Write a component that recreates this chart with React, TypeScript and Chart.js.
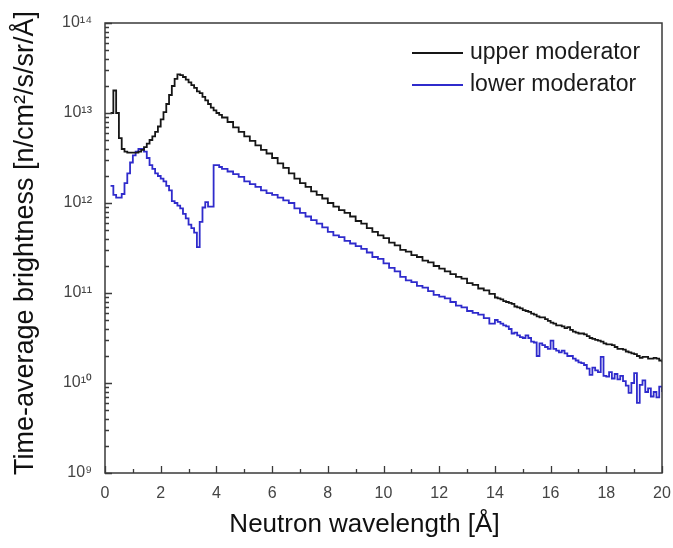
import React, { useEffect, useRef } from 'react';
import { Chart, registerables } from 'chart.js';

Chart.register(...registerables);

// Neutron wavelength bin starts [Å]
const wavelength = [
  0.2, 0.3, 0.4, 0.5, 0.6, 0.7, 0.8, 0.9, 1.0, 1.1,
  1.2, 1.3, 1.4, 1.5, 1.6, 1.7, 1.8, 1.9, 2.0, 2.1,
  2.2, 2.3, 2.4, 2.5, 2.6, 2.7, 2.8, 2.9, 3.0, 3.1,
  3.2, 3.3, 3.4, 3.5, 3.6, 3.7, 3.8, 3.9, 4.0, 4.1,
  4.2,
  4.4, 4.6, 4.8, 5.0, 5.2, 5.4, 5.6, 5.8, 6.0, 6.2,
  6.4, 6.6, 6.8, 7.0, 7.2, 7.4, 7.6, 7.8, 8.0, 8.2,
  8.4, 8.6, 8.8, 9.0, 9.2, 9.4, 9.6, 9.8, 10.0, 10.2,
  10.4, 10.6, 10.8, 11.0, 11.2, 11.4, 11.6, 11.8, 12.0, 12.2,
  12.4, 12.6, 12.8, 13.0, 13.2, 13.4, 13.6, 13.8,
  14.0, 14.1, 14.2, 14.3, 14.4, 14.5, 14.6, 14.7, 14.8, 14.9,
  15.0, 15.1, 15.2, 15.3, 15.4, 15.5, 15.6, 15.7, 15.8, 15.9,
  16.0, 16.1, 16.2, 16.3, 16.4, 16.5, 16.6, 16.7, 16.8, 16.9,
  17.0, 17.1, 17.2, 17.3, 17.4, 17.5, 17.6, 17.7, 17.8, 17.9,
  18.0, 18.1, 18.2, 18.3, 18.4, 18.5, 18.6, 18.7, 18.8, 18.9,
  19.0, 19.1, 19.2, 19.3, 19.4, 19.5, 19.6, 19.7, 19.8, 19.9,
  20.0,
];

// log10 of time-average brightness [n/cm²/s/sr/Å], upper moderator
const upperLog10 = [
  13.0, 13.25, 13.0, 12.72, 12.6, 12.57, 12.56, 12.56, 12.56, 12.56,
  12.57, 12.59, 12.62, 12.66, 12.7, 12.74, 12.79, 12.85, 12.93, 13.01,
  13.1, 13.2, 13.3, 13.38, 13.43, 13.42, 13.4, 13.37, 13.34, 13.31,
  13.28, 13.24, 13.22, 13.18, 13.14, 13.1, 13.06, 13.03, 13.0, 12.98,
  12.95,
  12.9, 12.84, 12.79, 12.74, 12.69, 12.64, 12.59, 12.55, 12.5, 12.44,
  12.39, 12.33, 12.27, 12.22, 12.18, 12.13, 12.09, 12.05, 12.0, 11.96,
  11.92, 11.89, 11.85, 11.8, 11.77, 11.72, 11.68, 11.64, 11.61, 11.56,
  11.53, 11.48, 11.46, 11.42, 11.4, 11.36, 11.34, 11.3, 11.27, 11.24,
  11.21, 11.18, 11.16, 11.11, 11.09, 11.05, 11.03, 10.99,
  10.95, 10.94, 10.93, 10.91, 10.9, 10.89, 10.88, 10.85, 10.84, 10.83,
  10.81, 10.8, 10.79, 10.77, 10.76, 10.74, 10.73, 10.73, 10.71, 10.69,
  10.67, 10.66, 10.64, 10.64, 10.63, 10.61, 10.62, 10.59, 10.57, 10.56,
  10.55, 10.55, 10.54, 10.52, 10.5, 10.49, 10.48, 10.47, 10.46, 10.44,
  10.43, 10.43, 10.42, 10.4, 10.38, 10.38, 10.37, 10.35, 10.34, 10.33,
  10.32, 10.3, 10.28, 10.29, 10.29, 10.27, 10.27, 10.28, 10.27, 10.25,
  10.23,
];

// log10 of time-average brightness [n/cm²/s/sr/Å], lower moderator
const lowerLog10 = [
  12.19, 12.09, 12.06, 12.06, 12.1, 12.22, 12.33, 12.45, 12.53, 12.57,
  12.6, 12.6, 12.57, 12.5, 12.42, 12.38, 12.33, 12.3, 12.27, 12.24,
  12.19, 12.14, 12.02, 12.0, 11.97, 11.94, 11.88, 11.83, 11.76, 11.72,
  11.67, 11.51, 11.79, 11.95, 12.01, 11.96, 11.96, 12.42, 12.42, 12.4,
  12.38,
  12.35, 12.32, 12.29, 12.24, 12.21, 12.18, 12.14, 12.11, 12.09, 12.06,
  12.03, 12.0, 11.94, 11.89, 11.85, 11.81, 11.77, 11.73, 11.68, 11.64,
  11.62, 11.58, 11.55, 11.52, 11.49, 11.45, 11.4, 11.38, 11.33, 11.28,
  11.24, 11.18, 11.14, 11.12, 11.08, 11.06, 11.02, 10.98, 10.96, 10.94,
  10.9, 10.86, 10.84, 10.8, 10.78, 10.76, 10.72, 10.66,
  10.7, 10.68, 10.66, 10.64, 10.63, 10.6, 10.55, 10.56, 10.53, 10.51,
  10.5, 10.53, 10.5, 10.46, 10.45, 10.3, 10.44, 10.42, 10.4, 10.38,
  10.47, 10.38, 10.36, 10.34, 10.36, 10.33, 10.3, 10.3, 10.27, 10.25,
  10.23, 10.22, 10.2, 10.16, 10.09, 10.17, 10.14, 10.12, 10.29, 10.08,
  10.07, 10.12, 10.05, 10.1, 10.04, 10.08, 10.02, 9.97, 9.89, 10.0,
  10.11, 9.78, 9.98, 10.03, 9.9, 9.94, 9.85, 9.9, 9.84, 9.96,
  9.9,
];

const seriesLabels = ['upper moderator', 'lower moderator'];
const seriesColors = ['#161616', '#2f2bcc'];

const xTickValues = [0, 2, 4, 6, 8, 10, 12, 14, 16, 18, 20];
const xTickLabels = ['0', '2', '4', '6', '8', '10', '12', '14', '16', '18', '20'];
const xMinorValues = [1, 3, 5, 7, 9, 11, 13, 15, 17, 19];

const yDecades = [1e9, 1e10, 1e11, 1e12, 1e13, 1e14];
const yTickLabels = ['10⁹', '10¹⁰', '10¹¹', '10¹²', '10¹³', '10¹⁴'];
const yMinorMultipliers = [2, 3, 4, 5, 6, 7, 8, 9];

const xTitle = 'Neutron wavelength [Å]';
const yTitle = 'Time-average brightness [n/cm²/s/sr/Å]';

const FONT = "'Liberation Sans', Arial, Helvetica, sans-serif";

const framePlugin = {
  id: 'frameTicksLegend',
  afterDatasetsDraw(chart: any) {
    const { ctx, chartArea: a, scales } = chart;
    const x = scales.x;
    const y = scales.y;
    ctx.save();
    ctx.strokeStyle = '#3a3a3a';
    ctx.lineWidth = 1.5;
    ctx.strokeRect(a.left, a.top, a.right - a.left, a.bottom - a.top);

    ctx.lineWidth = 1.3;
    ctx.beginPath();
    xTickValues.forEach((v) => {
      const px = Math.round(x.getPixelForValue(v)) + 0.5;
      ctx.moveTo(px, a.bottom);
      ctx.lineTo(px, a.bottom - 7);
    });
    xMinorValues.forEach((v) => {
      const px = Math.round(x.getPixelForValue(v)) + 0.5;
      ctx.moveTo(px, a.bottom);
      ctx.lineTo(px, a.bottom - 4);
    });
    yDecades.forEach((d, i) => {
      const py = Math.round(y.getPixelForValue(d)) + 0.5;
      ctx.moveTo(a.left, py);
      ctx.lineTo(a.left + 7, py);
      if (i < yDecades.length - 1) {
        yMinorMultipliers.forEach((m) => {
          const qy = Math.round(y.getPixelForValue(m * d)) + 0.5;
          ctx.moveTo(a.left, qy);
          ctx.lineTo(a.left + 4, qy);
        });
      }
    });
    ctx.stroke();

    // axis titles
    ctx.fillStyle = '#111';
    ctx.textAlign = 'center';
    ctx.textBaseline = 'middle';
    ctx.font = `26px ${FONT}`;
    ctx.fillText(xTitle, (a.left + a.right) / 2 - 19, a.bottom + 52);
    ctx.save();
    ctx.translate(26, (a.top + a.bottom) / 2 - 5);
    ctx.rotate(-Math.PI / 2);
    ctx.font = `27px ${FONT}`;
    ctx.fillText(yTitle, 0, 0);
    ctx.restore();

    // legend
    const lx0 = a.right - 250;
    const lx1 = a.right - 199;
    const rows = [a.top + 30, a.top + 62];
    ctx.font = `23px ${FONT}`;
    ctx.textBaseline = 'middle';
    ctx.textAlign = 'left';
    chart.data.datasets.forEach((ds: any, i: number) => {
      ctx.strokeStyle = ds.borderColor;
      ctx.lineWidth = 2;
      ctx.beginPath();
      ctx.moveTo(lx0, rows[i]);
      ctx.lineTo(lx1, rows[i]);
      ctx.stroke();
      ctx.fillStyle = '#1a1a1a';
      ctx.fillText(ds.label, lx1 + 7, rows[i]);
    });
    ctx.restore();
  },
};

export default function App() {
  const canvasRef = useRef<HTMLCanvasElement | null>(null);

  useEffect(() => {
    const canvas = canvasRef.current;
    if (!canvas) return;
    const makeData = (logs: number[]) =>
      wavelength.map((w, i) => ({ x: w, y: Math.pow(10, logs[i]) }));

    const chart = new Chart(canvas, {
      type: 'line',
      data: {
        datasets: [
          {
            label: seriesLabels[0],
            data: makeData(upperLog10),
            borderColor: seriesColors[0],
            borderWidth: 1.8,
            pointRadius: 0,
            stepped: true,
            fill: false,
            order: 1,
          },
          {
            label: seriesLabels[1],
            data: makeData(lowerLog10),
            borderColor: seriesColors[1],
            borderWidth: 1.8,
            pointRadius: 0,
            stepped: true,
            fill: false,
            order: 2,
          },
        ],
      },
      options: {
        animation: false,
        responsive: false,
        devicePixelRatio: 1,
        layout: { padding: { left: 0, top: 23, right: 11, bottom: 0 } },
        plugins: {
          legend: { display: false },
          tooltip: { enabled: false },
        },
        scales: {
          x: {
            type: 'linear',
            min: 0,
            max: 20,
            grid: { display: false },
            border: { display: false },
            afterBuildTicks: (s: any) => {
              s.ticks = xTickValues.map((v) => ({ value: v }));
            },
            afterFit: (s: any) => {
              s.height = 75;
              s.paddingLeft = 0;
              s.paddingRight = 0;
            },
            ticks: {
              padding: 3,
              color: '#444',
              font: { family: FONT, size: 16 },
              maxRotation: 0,
              autoSkip: false,
              callback: (v: any) => {
                const i = xTickValues.indexOf(Number(v));
                return i >= 0 ? xTickLabels[i] : '';
              },
            },
            title: { display: false },
          },
          y: {
            type: 'logarithmic',
            min: 1e9,
            max: 1e14,
            grid: { display: false },
            border: { display: false },
            afterBuildTicks: (s: any) => {
              s.ticks = yDecades.map((v) => ({ value: v }));
            },
            afterFit: (s: any) => {
              s.width = 105;
              s.paddingTop = 0;
              s.paddingBottom = 0;
            },
            ticks: {
              padding: 5,
              color: '#444',
              font: { family: FONT, size: 16 },
              autoSkip: false,
              callback: (v: any) => {
                const i = yDecades.findIndex((d) => Math.abs(d - Number(v)) / d < 1e-6);
                return i >= 0 ? yTickLabels[i] : '';
              },
            },
            title: { display: false },
          },
        },
      },
      plugins: [framePlugin],
    } as any);

    return () => chart.destroy();
  }, []);

  return (
    <div style={{ position: 'absolute', left: 0, top: 0, width: 673, height: 548, background: '#fff' }}>
      <canvas ref={canvasRef} width={673} height={548} style={{ display: 'block' }} />
    </div>
  );
}
